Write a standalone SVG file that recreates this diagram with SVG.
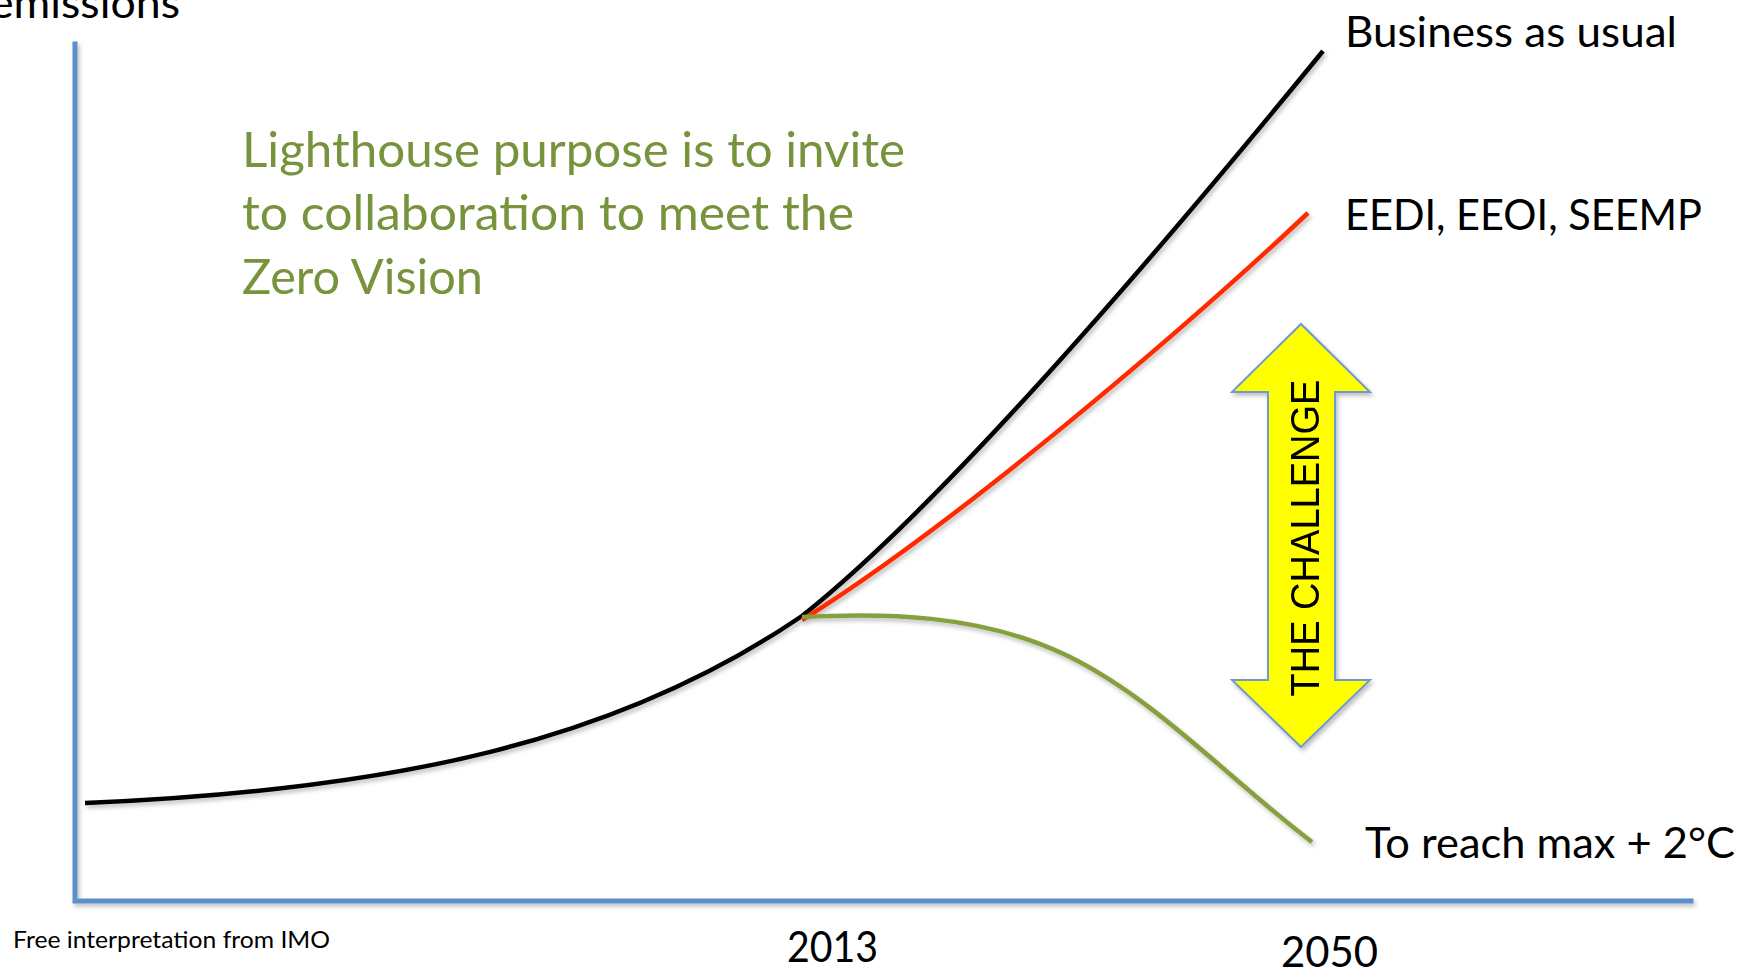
<svg xmlns="http://www.w3.org/2000/svg" width="1744" height="973" viewBox="0 0 1744 973">
<defs>
<filter id="sh" x="-5%" y="-5%" width="110%" height="110%">
<feDropShadow dx="2" dy="3" stdDeviation="2" flood-color="#000" flood-opacity="0.25"/>
</filter>
</defs>
<style>
.lbl{font-family:Lato,"Liberation Sans",sans-serif;fill:#000}
.grn{font-family:Lato,"Liberation Sans",sans-serif;fill:#77933C;font-size:48px}
.axis{stroke:#5B8FCB;stroke-width:5;fill:none;stroke-linecap:square}
.curve{fill:none;stroke-width:4.5}
</style>
<rect width="1744" height="973" fill="#fff"/>
<g id="axes" filter="url(#sh)">
<path class="axis" d="M75 44 V901 H1691"/>
</g>
<g id="connectors" filter="url(#sh)">
<path class="curve" stroke="#000" d="M85 803 C400 790 620 740 802 616 C950 499 1180 226 1323 51"/>
<path class="curve" stroke="#FF2A00" d="M802 620 C952 527 1178 335 1308 213"/>
<path class="curve" stroke="#86A03E" d="M802 617 C880 613 980 613 1068 656 S1230 780 1312 842"/>
</g>
<g id="challenge" filter="url(#sh)">
<path d="M1301 324 L1370 392 L1335 392 L1335 680 L1370 680 L1301 747 L1232 680 L1268 680 L1268 392 L1232 392 Z" fill="#FFFF00" stroke="#6C9BD2" stroke-width="2"/>
<text transform="translate(1319,538) rotate(-90)" text-anchor="middle" font-family="'Liberation Sans',Arial,sans-serif" font-size="41" textLength="317" lengthAdjust="spacingAndGlyphs" fill="#000">THE CHALLENGE</text>
</g>
<g id="label-emissions"><text class="lbl" x="-10" y="18" font-size="43" textLength="190" lengthAdjust="spacingAndGlyphs">emissions</text></g>
<g id="label-bau"><text class="lbl" x="1345" y="47" font-size="43" textLength="332" lengthAdjust="spacingAndGlyphs">Business as usual</text></g>
<g id="label-eedi"><text class="lbl" x="1345" y="230" font-size="43" textLength="357" lengthAdjust="spacingAndGlyphs">EEDI, EEOI, SEEMP</text></g>
<g id="label-2c"><text class="lbl" x="1365" y="858" font-size="43" textLength="370" lengthAdjust="spacingAndGlyphs">To reach max + 2°C</text></g>
<g id="label-2013"><text class="lbl" x="787" y="962" font-size="43" textLength="91" lengthAdjust="spacingAndGlyphs">2013</text></g>
<g id="label-2050"><text class="lbl" x="1281" y="967" font-size="43" textLength="97" lengthAdjust="spacingAndGlyphs">2050</text></g>
<g id="label-source"><text class="lbl" x="13" y="948" font-size="24" textLength="317" lengthAdjust="spacingAndGlyphs">Free interpretation from IMO</text></g>
<g id="lighthouse-text">
<text class="grn" x="242" y="167" textLength="663" lengthAdjust="spacingAndGlyphs">Lighthouse purpose is to invite</text>
<text class="grn" x="242" y="230" textLength="612" lengthAdjust="spacingAndGlyphs">to collaboration to meet the</text>
<text class="grn" x="242" y="294" textLength="241" lengthAdjust="spacingAndGlyphs">Zero Vision</text>
</g>
</svg>
